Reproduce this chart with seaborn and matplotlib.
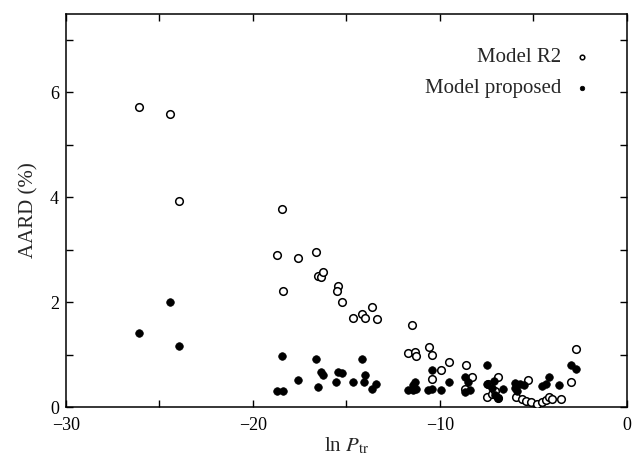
import pandas as pd
import matplotlib
matplotlib.use('Agg')
import matplotlib.pyplot as plt
from matplotlib.ticker import MultipleLocator
import seaborn as sns

# ln P_tr and AARD (%) for Model R2 (open circles)
r2_x = [-26.08, -24.42, -23.94, -18.45, -18.73, -17.59, -16.63, -18.38, -16.54, -16.38,
        -16.27, -15.44, -15.52, -15.26, -14.67, -14.19, -14.01, -13.65, -13.38, -11.48,
        -11.70, -11.34, -11.30, -10.57, -10.41, -9.50, -9.95, -10.44, -8.63, -8.27,
        -8.65, -7.45, -6.92, -7.47, -7.24, -7.05, -5.28, -5.95, -5.60, -5.40,
        -5.15, -4.80, -4.56, -4.33, -4.15, -4.03, -3.55, -3.00, -2.74, -6.90]
r2_y = [5.72, 5.59, 3.93, 3.77, 2.90, 2.85, 2.95, 2.22, 2.49, 2.48,
        2.57, 2.30, 2.22, 2.00, 1.69, 1.77, 1.69, 1.90, 1.68, 1.57,
        1.04, 1.05, 0.97, 1.15, 0.99, 0.86, 0.70, 0.53, 0.80, 0.58,
        0.35, 0.43, 0.58, 0.19, 0.25, 0.31, 0.51, 0.19, 0.16, 0.11,
        0.09, 0.06, 0.09, 0.14, 0.19, 0.15, 0.15, 0.47, 1.10, 0.18]

# ln P_tr and AARD (%) for the proposed model (filled circles)
prop_x = [-26.08, -24.42, -23.94, -18.45, -17.59, -18.73, -18.38, -16.63, -16.38, -16.27,
          -16.54, -15.44, -15.26, -15.54, -14.67, -14.17, -14.01, -14.06, -13.64, -13.42,
          -11.34, -11.43, -11.69, -11.43, -11.28, -10.44, -10.63, -10.41, -9.95, -9.50,
          -8.66, -8.49, -8.66, -8.40, -7.46, -7.50, -7.24, -7.10, -6.61, -7.06,
          -6.88, -5.99, -5.99, -5.72, -5.51, -4.56, -4.33, -4.15, -3.62, -3.00,
          -2.74, -5.90]
prop_y = [1.42, 2.01, 1.17, 0.98, 0.52, 0.31, 0.31, 0.91, 0.67, 0.62,
          0.39, 0.66, 0.64, 0.48, 0.48, 0.91, 0.61, 0.48, 0.34, 0.44,
          0.48, 0.42, 0.32, 0.32, 0.35, 0.70, 0.33, 0.35, 0.33, 0.48,
          0.58, 0.47, 0.29, 0.32, 0.80, 0.43, 0.37, 0.50, 0.35, 0.23,
          0.18, 0.45, 0.36, 0.43, 0.42, 0.41, 0.43, 0.58, 0.42, 0.81,
          0.72, 0.31]

r2 = pd.DataFrame({'lnP': r2_x, 'AARD': r2_y})
prop = pd.DataFrame({'lnP': prop_x, 'AARD': prop_y})

sns.set_style('ticks')
plt.rcParams['font.family'] = ['Liberation Serif', 'DejaVu Serif']
plt.rcParams['mathtext.fontset'] = 'stix'

fig = plt.figure(figsize=(6.32, 4.62), dpi=100)
ax = fig.add_axes([0.1044, 0.119, 0.8876, 0.851])

sns.scatterplot(data=r2, x='lnP', y='AARD', ax=ax, s=30, marker='o',
                facecolor='white', edgecolor='black', linewidth=1.1,
                label='Model R2', zorder=3)
sns.scatterplot(data=prop, x='lnP', y='AARD', ax=ax, s=30, marker='o',
                color='black', edgecolor='black', linewidth=0.5,
                label='Model proposed', zorder=4)

ax.set_xlim(-30, 0)
ax.set_ylim(0, 7.5)
ax.xaxis.set_major_locator(MultipleLocator(10))
ax.xaxis.set_minor_locator(MultipleLocator(5))
ax.yaxis.set_major_locator(MultipleLocator(2))
ax.yaxis.set_minor_locator(MultipleLocator(1))
ax.tick_params(which='both', direction='in', top=True, right=True,
               length=5, width=1, labelsize=13, colors='black')
ax.tick_params(axis='x', which='both', pad=7)
ax.tick_params(axis='y', which='both', pad=5)
for sp in ax.spines.values():
    sp.set_linewidth(1.1)
    sp.set_color('black')

ax.set_xlabel(r'ln $P_{\rm tr}$', fontsize=15, labelpad=1)
ax.set_ylabel('AARD (%)', fontsize=15, labelpad=8)

ax.legend(loc='upper right', bbox_to_anchor=(0.979, 0.962), frameon=False,
          markerfirst=False, fontsize=15, markerscale=0.6,
          handlelength=1.4, handletextpad=0.3, labelspacing=0.55)

plt.savefig('out.png', dpi=100)
